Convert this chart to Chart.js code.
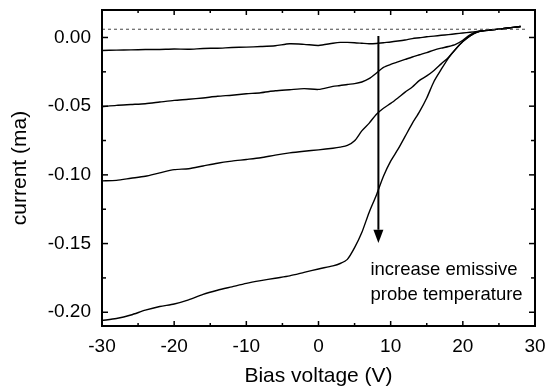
<!DOCTYPE html>
<html>
<head>
<meta charset="utf-8">
<script src="https://cdn.jsdelivr.net/npm/chart.js@4.4.1/dist/chart.umd.min.js"></script>
<style>
  html, body { margin: 0; padding: 0; background: #fff; }
</style>
</head>
<body>
<canvas id="grafico" width="552" height="387"></canvas>
<script>
// Tensão de polarização (V) - eixo x comum às quatro curvas
const volts = [-30, -28, -26, -24, -22, -20, -18, -16, -14, -12, -10, -8, -6, -4, -2, 0,
    2, 3, 4, 5, 6, 7, 8, 9, 10, 11, 12, 13, 14, 15, 16, 17, 18, 19, 20, 21, 22, 23, 24, 26, 28];

// Corrente (ma), da sonda mais fria para a mais quente
const curva1 = [-0.0095, -0.0092, -0.0090, -0.0088, -0.0087, -0.0084, -0.0086, -0.0080, -0.0078, -0.0073,
    -0.0070, -0.0066, -0.0060, -0.0046, -0.0050, -0.0058, -0.0042, -0.0036, -0.0036, -0.0038, -0.0042,
    -0.0046, -0.0044, -0.0038, -0.0033, -0.0026, -0.0018, -0.0008, -0.0002, 0.0005, 0.0010, 0.0016,
    0.0021, 0.0027, 0.0033, 0.0038, 0.0044, 0.0050, 0.0055, 0.0067, 0.0080];
const curva2 = [-0.0504, -0.0494, -0.0488, -0.0482, -0.0470, -0.0458, -0.0450, -0.0440, -0.0428, -0.0420,
    -0.0410, -0.0402, -0.0388, -0.0380, -0.0372, -0.0378, -0.0356, -0.0350, -0.0342, -0.0336, -0.0324,
    -0.0300, -0.0260, -0.0218, -0.0196, -0.0178, -0.0160, -0.0142, -0.0126, -0.0110, -0.0092, -0.0078,
    -0.0066, -0.0050, -0.0020, 0.0020, 0.0042, 0.0050, 0.0055, 0.0067, 0.0080];
const curva3 = [-0.1044, -0.1040, -0.1025, -0.1010, -0.0985, -0.0962, -0.0955, -0.0935, -0.0915, -0.0900,
    -0.0888, -0.0875, -0.0856, -0.0840, -0.0828, -0.0818, -0.0806, -0.0798, -0.0786, -0.0752, -0.0680,
    -0.0625, -0.0560, -0.0515, -0.0480, -0.0440, -0.0398, -0.0360, -0.0312, -0.0280, -0.0240, -0.0192,
    -0.0145, -0.0085, -0.0030, 0.0012, 0.0040, 0.0050, 0.0055, 0.0067, 0.0080];
const curva4 = [-0.2060, -0.2045, -0.2020, -0.1985, -0.1958, -0.1940, -0.1910, -0.1870, -0.1840, -0.1815,
    -0.1790, -0.1770, -0.1752, -0.1735, -0.1710, -0.1685, -0.1662, -0.1645, -0.1615, -0.1530, -0.1420,
    -0.1275, -0.1150, -0.1010, -0.0900, -0.0815, -0.0720, -0.0625, -0.0540, -0.0440, -0.0320, -0.0233,
    -0.0150, -0.0085, -0.0030, 0.0012, 0.0040, 0.0050, 0.0055, 0.0067, 0.0080];

// Linha tracejada de referência
const tracejadoX = [-30, 29];
const tracejadoY = [0.006, 0.006];

// Seta "increase emissive probe temperature"
const setaX = [8.3, 8.3];
const setaY = [0.001, -0.140];
const setaPonta = -0.1495;
const textoSeta = ['increase emissive', 'probe temperature'];

// Marcas dos eixos
const ticksX = [-30, -20, -10, 0, 10, 20, 30];
const ticksXMenores = [-25, -15, -5, 5, 15, 25];
const ticksY = [-0.20, -0.15, -0.10, -0.05, 0.00];
const ticksYMenores = [-0.175, -0.125, -0.075, -0.025];

Chart.defaults.font.family = "'Liberation Sans', Arial, Helvetica, sans-serif";
Chart.defaults.color = '#000';

function pontos(xs, ys) {
    return xs.map((x, i) => ({ x: x, y: ys[i] }));
}

function curva(valores) {
    return {
        data: pontos(volts, valores),
        borderColor: '#000',
        borderWidth: 1.4,
        pointRadius: 0,
        tension: 0.25,
    };
}

// Moldura, marcas internas, ponta da seta e texto
const moldura = {
    id: 'moldura',
    afterDatasetsDraw(chart) {
        const { ctx, chartArea: a, scales: { x, y } } = chart;
        ctx.save();
        ctx.strokeStyle = '#000';
        ctx.lineWidth = 2;
        ctx.strokeRect(a.left, a.top, a.right - a.left, a.bottom - a.top);

        ctx.lineWidth = 1.5;
        const marca = (px, py, dx, dy) => {
            ctx.beginPath();
            ctx.moveTo(px, py);
            ctx.lineTo(px + dx, py + dy);
            ctx.stroke();
        };
        ticksX.concat(ticksXMenores).forEach(v => {
            const len = ticksX.includes(v) ? 5 : 3;
            const px = x.getPixelForValue(v);
            marca(px, a.bottom, 0, -len);
            marca(px, a.top, 0, len);
        });
        ticksY.concat(ticksYMenores).forEach(v => {
            const len = ticksY.includes(v) ? 6 : 4;
            const py = y.getPixelForValue(v);
            marca(a.left, py, len, 0);
            marca(a.right, py, -len, 0);
        });

        // ponta da seta
        const sx = x.getPixelForValue(setaX[1]);
        const base = y.getPixelForValue(setaY[1]);
        const ponta = y.getPixelForValue(setaPonta);
        ctx.fillStyle = '#000';
        ctx.beginPath();
        ctx.moveTo(sx - 5, base);
        ctx.lineTo(sx + 5, base);
        ctx.lineTo(sx, ponta);
        ctx.closePath();
        ctx.fill();

        // texto
        ctx.font = "18.5px 'Liberation Sans', Arial, sans-serif";
        ctx.textAlign = 'left';
        ctx.textBaseline = 'alphabetic';
        const tx = x.getPixelForValue(7.2);
        ctx.fillText(textoSeta[0], tx, y.getPixelForValue(-0.1729));
        ctx.fillText(textoSeta[1], tx, y.getPixelForValue(-0.1911));
        ctx.restore();
    }
};

new Chart(document.getElementById('grafico'), {
    type: 'line',
    data: {
        datasets: [
            {
                data: pontos(tracejadoX, tracejadoY),
                borderColor: '#444',
                borderWidth: 1,
                borderDash: [3, 3],
                pointRadius: 0,
            },
            curva(curva1),
            curva(curva2),
            curva(curva3),
            curva(curva4),
            {
                data: pontos(setaX, setaY),
                borderColor: '#000',
                borderWidth: 2,
                pointRadius: 0,
            },
        ]
    },
    plugins: [moldura],
    options: {
        responsive: false,
        animation: false,
        devicePixelRatio: 1,
        layout: { padding: { left: 0, right: 17, top: 10, bottom: 0 } },
        plugins: {
            legend: { display: false },
            tooltip: { enabled: false },
        },
        scales: {
            x: {
                type: 'linear',
                min: -30,
                max: 30,
                afterBuildTicks: (s) => { s.ticks = ticksX.map(v => ({ value: v })); },
                afterFit: (s) => { s.height = 61; s.paddingLeft = 0; s.paddingRight = 0; },
                ticks: {
                    font: { size: 19 },
                    padding: 9,
                    maxRotation: 0,
                    callback: (v) => String(v),
                },
                grid: { display: false, drawTicks: false },
                border: { display: false },
                title: {
                    display: true,
                    text: 'Bias voltage (V)',
                    font: { size: 21, lineHeight: 1 },
                    padding: { top: 0, bottom: 0 },
                },
            },
            y: {
                type: 'linear',
                min: -0.21,
                max: 0.02,
                afterBuildTicks: (s) => { s.ticks = ticksY.map(v => ({ value: v })); },
                afterFit: (s) => { s.width = 102; s.paddingTop = 0; s.paddingBottom = 0; },
                ticks: {
                    font: { size: 19 },
                    padding: 11,
                    callback: (v) => v.toFixed(2),
                },
                grid: { display: false, drawTicks: false },
                border: { display: false },
                title: {
                    display: true,
                    text: 'current (ma)',
                    font: { size: 21, lineHeight: 1 },
                    padding: { top: 10, bottom: 0 },
                },
            },
        },
    },
});
</script>
</body>
</html>
